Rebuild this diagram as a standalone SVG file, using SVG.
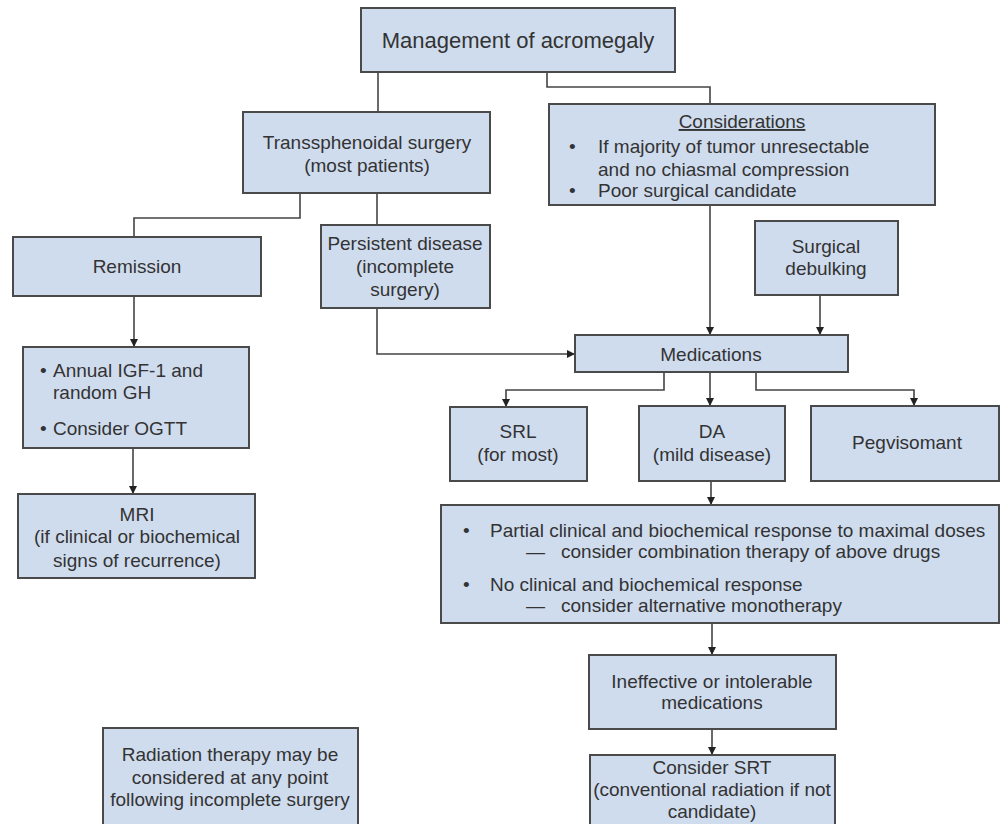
<svg xmlns="http://www.w3.org/2000/svg" width="1002" height="824" viewBox="0 0 1002 824">
  <style>
    .box { fill: #cfdcee; stroke: #4a4a4a; stroke-width: 2; }
    .t { font-family: "Liberation Sans", Arial, sans-serif; font-size: 19px; fill: #333; }
    .c { text-anchor: middle; }
    .title { font-size: 22px; }
    .link { fill: none; stroke: #444; stroke-width: 1.6; }
  </style>
  <defs>
    <marker id="arrow" markerUnits="userSpaceOnUse" markerWidth="10" markerHeight="10" refX="9" refY="5" orient="auto">
      <path d="M1,1 L9,5 L1,9 Z" fill="#222"/>
    </marker>
  </defs>
  <rect width="1002" height="824" fill="#fff"/>

  <g id="connectors">
    <path class="link" d="M378 72 V112"/>
    <path class="link" d="M547 72 V87 H710 V104"/>
    <path class="link" d="M300 193 V218 H134 V237"/>
    <path class="link" d="M377 193 V225"/>
    <path class="link" d="M134 296 V347" marker-end="url(#arrow)"/>
    <path class="link" d="M133 448 V494" marker-end="url(#arrow)"/>
    <path class="link" d="M377 308 V354 H575" marker-end="url(#arrow)"/>
    <path class="link" d="M710 205 V335" marker-end="url(#arrow)"/>
    <path class="link" d="M820 295 V335" marker-end="url(#arrow)"/>
    <path class="link" d="M664 372 V390 H506 V407" marker-end="url(#arrow)"/>
    <path class="link" d="M710 372 V406" marker-end="url(#arrow)"/>
    <path class="link" d="M756 372 V390 H914 V406" marker-end="url(#arrow)"/>
    <path class="link" d="M711 481 V505" marker-end="url(#arrow)"/>
    <path class="link" d="M712 623 V655" marker-end="url(#arrow)"/>
    <path class="link" d="M712 729 V755" marker-end="url(#arrow)"/>
  </g>

  <g id="management">
    <rect class="box" x="361" y="8" width="314" height="64"/>
    <text class="t c title" x="518" y="48">Management of acromegaly</text>
  </g>

  <g id="transsphenoidal">
    <rect class="box" x="243" y="112" width="247" height="81"/>
    <text class="t c" x="367" y="149">Transsphenoidal surgery</text>
    <text class="t c" x="367" y="172">(most patients)</text>
  </g>

  <g id="considerations">
    <rect class="box" x="549" y="104" width="386" height="101"/>
    <text class="t c" x="742" y="128" text-decoration="underline">Considerations</text>
    <text class="t" x="569" y="153">•</text>
    <text class="t" x="598" y="153">If majority of tumor unresectable</text>
    <text class="t" x="598" y="176">and no chiasmal compression</text>
    <text class="t" x="569" y="197">•</text>
    <text class="t" x="598" y="197">Poor surgical candidate</text>
  </g>

  <g id="remission">
    <rect class="box" x="13" y="237" width="248" height="59"/>
    <text class="t c" x="137" y="273">Remission</text>
  </g>

  <g id="persistent">
    <rect class="box" x="321" y="225" width="169" height="83"/>
    <text class="t c" x="405" y="250">Persistent disease</text>
    <text class="t c" x="405" y="273">(incomplete</text>
    <text class="t c" x="405" y="296">surgery)</text>
  </g>

  <g id="debulking">
    <rect class="box" x="755" y="221" width="143" height="74"/>
    <text class="t c" x="826" y="253">Surgical</text>
    <text class="t c" x="826" y="275">debulking</text>
  </g>

  <g id="followup">
    <rect class="box" x="23" y="347" width="226" height="101"/>
    <text class="t" x="40" y="377">•</text>
    <text class="t" x="53" y="377">Annual IGF-1 and</text>
    <text class="t" x="53" y="399">random GH</text>
    <text class="t" x="40" y="435">•</text>
    <text class="t" x="53" y="435">Consider OGTT</text>
  </g>

  <g id="mri">
    <rect class="box" x="18" y="494" width="237" height="84"/>
    <text class="t c" x="137" y="521">MRI</text>
    <text class="t c" x="137" y="543">(if clinical or biochemical</text>
    <text class="t c" x="137" y="567">signs of recurrence)</text>
  </g>

  <g id="medications">
    <rect class="box" x="575" y="335" width="273" height="37"/>
    <text class="t c" x="711" y="361">Medications</text>
  </g>

  <g id="srl">
    <rect class="box" x="450" y="407" width="137" height="74"/>
    <text class="t c" x="518" y="438">SRL</text>
    <text class="t c" x="518" y="461">(for most)</text>
  </g>

  <g id="da">
    <rect class="box" x="639" y="406" width="146" height="75"/>
    <text class="t c" x="712" y="438">DA</text>
    <text class="t c" x="712" y="461">(mild disease)</text>
  </g>

  <g id="pegvisomant">
    <rect class="box" x="811" y="406" width="188" height="75"/>
    <text class="t c" x="907" y="449">Pegvisomant</text>
  </g>

  <g id="response">
    <rect class="box" x="441" y="505" width="558" height="118"/>
    <text class="t" x="463" y="537">•</text>
    <text class="t" x="490" y="537">Partial clinical and biochemical response to maximal doses</text>
    <text class="t" x="526" y="558">—</text>
    <text class="t" x="561" y="558">consider combination therapy of above drugs</text>
    <text class="t" x="463" y="591">•</text>
    <text class="t" x="490" y="591">No clinical and biochemical response</text>
    <text class="t" x="526" y="612">—</text>
    <text class="t" x="561" y="612">consider alternative monotherapy</text>
  </g>

  <g id="ineffective">
    <rect class="box" x="589" y="655" width="247" height="74"/>
    <text class="t c" x="712" y="688">Ineffective or intolerable</text>
    <text class="t c" x="712" y="709">medications</text>
  </g>

  <g id="srt">
    <rect class="box" x="590" y="755" width="245" height="80"/>
    <text class="t c" x="712" y="774">Consider SRT</text>
    <text class="t c" x="712" y="796">(conventional radiation if not</text>
    <text class="t c" x="712" y="818">candidate)</text>
  </g>

  <g id="radiation">
    <rect class="box" x="103" y="728" width="255" height="110"/>
    <text class="t c" x="230" y="761">Radiation therapy may be</text>
    <text class="t c" x="230" y="784">considered at any point</text>
    <text class="t c" x="230" y="806">following incomplete surgery</text>
  </g>
</svg>
